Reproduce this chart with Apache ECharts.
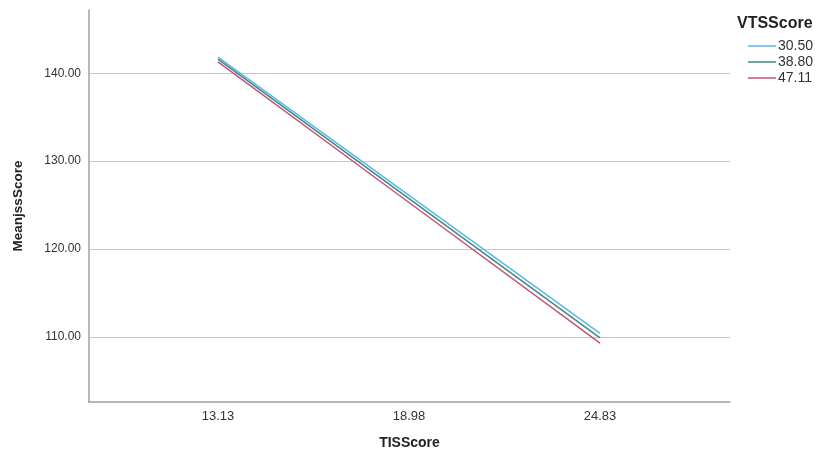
<!DOCTYPE html>
<html><head><meta charset="utf-8">
<script src="https://cdn.jsdelivr.net/npm/echarts@6/dist/echarts.min.js"></script>
<style>html,body{margin:0;padding:0;background:#fff}#c{width:827px;height:451px}</style>
</head><body><div id="c"></div>
<script>
const tisCategories = [13.13, 18.98, 24.83];
const vtsLevels = ['30.50', '38.80', '47.11'];
const series3050 = [141.85, 126.1, 110.4];
const series3880 = [141.6, 125.75, 109.9];
const series4711 = [141.3, 125.3, 109.3];
const yTicks = [110, 120, 130, 140];
const colors = ['#5db7ea', '#3f8a80', '#c5527c'];
const font = '"Liberation Sans", Arial, sans-serif';
const chart = echarts.init(document.getElementById('c'));
const allSeries = [series3050, series3880, series4711];
chart.setOption({
  animation: false,
  color: colors,
  grid: {left: 89, right: 97, top: 10, bottom: 49, containLabel: false, outerBoundsMode: 'none'},
  title: {text: 'VTSScore', left: 737, top: 16, padding: 0, textStyle: {fontFamily: font, fontSize: 16, fontWeight: 'bold', color: '#222'}},
  legend: {
    orient: 'vertical', left: 748, top: 39, padding: 0, itemWidth: 28, itemHeight: 1.5, itemGap: 2,
    icon: 'rect', data: vtsLevels,
    textStyle: {fontFamily: font, fontSize: 14, color: '#333', lineHeight: 13, padding: [0,0,0,-3]}
  },
  xAxis: {
    type: 'value', min: 9.18, max: 28.81,
    name: 'TISScore', nameLocation: 'middle', nameGap: 34,
    nameTextStyle: {fontFamily: font, fontSize: 14, fontWeight: 'bold', color: '#222'},
    axisLine: {show: true, lineStyle: {color: '#a0a0a0', width: 1.5}},
    axisTick: {show: false, customValues: tisCategories},
    axisLabel: {customValues: tisCategories, formatter: v => v.toFixed(2), fontFamily: font, fontSize: 13, color: '#333', margin: 8},
    splitLine: {show: false}
  },
  yAxis: {
    type: 'value', min: 102.6, max: 147.2,
    name: 'MeanjssScore', nameLocation: 'middle', nameGap: 64, nameRotate: 90,
    nameTextStyle: {fontFamily: '"Liberation Sans Narrow", "Liberation Sans", Arial, sans-serif', fontSize: 13.5, fontWeight: 'bold', color: '#222'},
    axisLine: {show: true, lineStyle: {color: '#a0a0a0', width: 1.5}},
    axisTick: {show: false, customValues: yTicks},
    axisLabel: {customValues: yTicks, formatter: v => v.toFixed(2), fontFamily: font, fontSize: 12, color: '#333', margin: 8},
    splitLine: {show: true, lineStyle: {color: '#c8c8c8', width: 1}}
  },
  series: vtsLevels.map((name, i) => ({
    name, type: 'line', symbol: 'none',
    data: tisCategories.map((x, j) => [x, allSeries[i][j]]),
    lineStyle: {width: 1.5, color: colors[i]}
  }))
});
</script></body></html>
